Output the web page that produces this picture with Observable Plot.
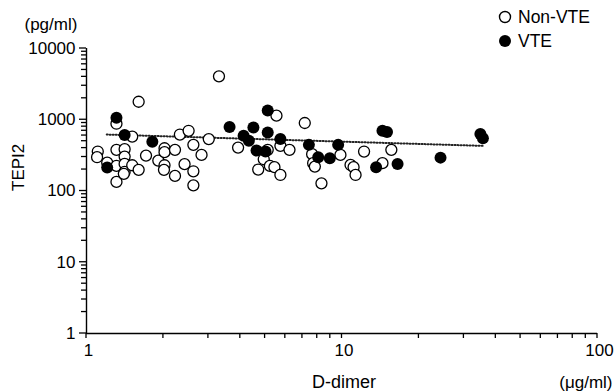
<!DOCTYPE html>
<html><head><meta charset="utf-8">
<script src="https://cdn.jsdelivr.net/npm/d3@7"></script>
<script src="https://cdn.jsdelivr.net/npm/@observablehq/plot@0.6"></script>
<style>
body{margin:0;background:#fff;}
#wrap{position:relative;width:614px;height:392px;font-family:'Liberation Sans',Arial,sans-serif;}
#legend{position:absolute;left:497px;top:5px;font-size:17.5px;line-height:24px;color:#000;}
#legend div{display:flex;align-items:center;}
#legend svg{margin-right:5px;}
</style>
</head><body>
<div id="wrap"><div id="chart"></div>
<div id="legend">
<div><svg width="16" height="14"><circle cx="8" cy="7" r="5.5" fill="#fff" stroke="#000" stroke-width="1.4"/></svg>Non-VTE</div>
<div><svg width="16" height="14"><circle cx="8" cy="7" r="6" fill="#000"/></svg>VTE</div>
</div></div>
<script>
// Non-VTE (open circles)
const nonX = [3.3,1.60,1.31,1.51,2.32,2.51,3.01,3.92,4.70,1.107,1.10,1.205,1.31,1.31,1.31,1.41,1.41,1.41,1.41,1.40,1.51,1.60,1.71,1.91,2.02,2.02,2.22,2.02,2.01,2.22,2.42,2.62,2.62,2.62,2.82,5.54,7.15,5.12,4.94,5.22,5.44,5.74,5.74,6.23,7.64,7.71,7.83,8.31,9.86,10.8,11.1,11.3,12.2,15.6,14.4];
const nonY = [4070,1790,880,580,620,700,535,407,200,358,298,250,378,225,134,387,304,240,185,174,230,198,314,267,398,351,378,230,198,163,238,444,189,120,321,1140,900,378,279,225,216,168,430,378,329,246,220,128,321,232,216,168,358,378,246];
// VTE (filled circles)
const vteX = [1.31,1.41,1.81,1.205,3.63,4.12,4.50,4.32,4.63,5.12,5.12,5.74,5.02,7.42,8.07,8.96,9.66,14.4,15.0,13.6,16.5,24.3,34.8,35.6];
const vteY = [1067,609,490,213,789,595,780,506,370,1352,662,535,358,444,298,289,444,700,671,216,240,294,630,552];
// Regression (dotted) line end points
const trendX = [1.2, 35.6];
const trendY = [620, 430];
// Tick values
const xTicks = [1,2,3,4,5,6,7,8,9,10,20,30,40,50,60,70,80,90,100];
const xLabels = [1,10,100];
const yMajor = [1,10,100,1000,10000];
const yMinor = [2,3,4,5,6,7,8,9,20,30,40,50,60,70,80,90,200,300,400,500,600,700,800,900,2000,3000,4000,5000,6000,7000,8000,9000];

const non = nonX.map((x,i)=>({x, y: nonY[i]}));
const vte = vteX.map((x,i)=>({x, y: vteY[i]}));
const trend = trendX.map((x,i)=>({x, y: trendY[i]}));

const W = 614, H = 392, ML = 86, MR = 17, MT = 48, MB = 59;

const chart = Plot.plot({
  width: W, height: H,
  marginLeft: ML, marginRight: MR, marginTop: MT, marginBottom: MB,
  style: {fontFamily: "'Liberation Sans', Arial, sans-serif", fontSize: "17px", color: "#000", background: "#fff"},
  x: {type: "log", domain: [1, 100], axis: null},
  y: {type: "log", domain: [1, 10000], axis: null},
  marks: [
    Plot.text(xLabels, {x: d => d, text: d => String(d), frameAnchor: "bottom", lineAnchor: "top", dx: 2, dy: 10, fontSize: 17, fill: "#000"}),
    Plot.text(yMajor, {y: d => d, text: d => String(d), frameAnchor: "left", textAnchor: "end", dx: -11, fontSize: 17, fill: "#000"}),
    Plot.ruleX([1], {stroke: "#000", strokeWidth: 1.4}),
    Plot.ruleY([1], {stroke: "#000", strokeWidth: 1.4}),
    Plot.line(trend, {x: "x", y: "y", stroke: "#222", strokeWidth: 2, strokeDasharray: "1,2"}),
    Plot.dot(non, {x: "x", y: "y", r: 5.5, fill: "#fff", stroke: "#000", strokeWidth: 1.3}),
    Plot.dot(vte, {x: "x", y: "y", r: 6, fill: "#000"}),
    Plot.text(["TEPI2"], {frameAnchor: "left", dx: -68, rotate: -90, fontSize: 17, fill: "#000"}),
    Plot.text(["(pg/ml)"], {frameAnchor: "top-left", textAnchor: "start", dx: -62, dy: -31, fontSize: 17, fill: "#000"}),
    Plot.text(["D-dimer"], {frameAnchor: "bottom", dx: 2, dy: 54, fontSize: 18, fill: "#000"}),
    Plot.text(["(\u03bcg/ml)"], {frameAnchor: "bottom-right", textAnchor: "end", dx: 15, dy: 54, fontSize: 17, fill: "#000"})
  ]
});
// Tick marks drawn through the chart's own scales
const sx = chart.scale("x"), sy = chart.scale("y");
const g = d3.select(chart).append("g").attr("stroke", "#000").attr("stroke-width", 1.3);
const x0 = sx.apply(1), y0 = sy.apply(1);
g.selectAll(".xt").data(xTicks).join("line")
  .attr("x1", d => sx.apply(d)).attr("x2", d => sx.apply(d))
  .attr("y1", y0).attr("y2", y0 + 5);
g.selectAll(".ym").data(yMinor).join("line")
  .attr("x1", x0 - 5).attr("x2", x0)
  .attr("y1", d => sy.apply(d)).attr("y2", d => sy.apply(d));
g.selectAll(".yM").data(yMajor).join("line")
  .attr("x1", x0 - 7).attr("x2", x0)
  .attr("y1", d => sy.apply(d)).attr("y2", d => sy.apply(d));
document.getElementById("chart").appendChild(chart);
</script>
</body></html>
